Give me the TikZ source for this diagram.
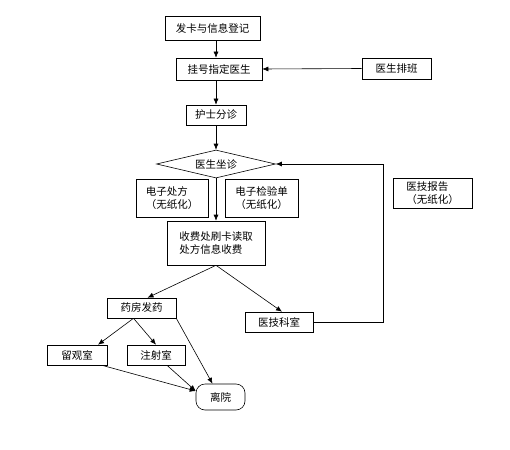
\documentclass[tikz,border=0pt]{standalone}
\usepackage{fontspec}
\setmainfont{Noto Sans CJK SC}
\usetikzlibrary{arrows.meta,shapes.geometric}
\begin{document}
\begin{tikzpicture}[x=1pt,y=-1pt,line width=.6pt,
  every node/.style={font=\fontsize{10.5}{13}\selectfont,inner sep=0pt},
  box/.style={draw,rectangle,align=left},
  arr/.style={-{Latex[length=6pt,width=5pt]}}]
  \useasboundingbox (0,0) rectangle (510,449);
  \node[box,minimum width=95,minimum height=24] (reg) at (212.5,28) {发卡与信息登记};
  \node[box,minimum width=86,minimum height=22] (gua) at (219,69) {挂号指定医生};
  \node[box,minimum width=69,minimum height=21] (pb) at (396.5,68.5) {医生排班};
  \node[box,minimum width=60,minimum height=20] (hs) at (216,115) {护士分诊};
  \node[draw,diamond,aspect=4,minimum width=119,minimum height=28] (zz) at (216,164) {医生坐诊};
  \node[box,minimum width=72,minimum height=38] (cf) at (172,198) {电子处方\\（无纸化）};
  \node[box,minimum width=73,minimum height=38] (jy) at (261.5,198) {电子检验单\\（无纸化）};
  \node[box,minimum width=98,minimum height=44] (sf) at (216,243) {收费处刷卡读取\\处方信息收费};
  \node[box,minimum width=79,minimum height=30] (bg) at (432.5,193) {医技报告\\（无纸化）};
  \node[box,minimum width=69,minimum height=20] (yf) at (141.5,308) {药房发药};
  \node[box,minimum width=68,minimum height=20] (jk) at (279,322) {医技科室};
  \node[box,minimum width=60,minimum height=20] (lg) at (77,355) {留观室};
  \node[box,minimum width=58,minimum height=20] (zs) at (156,355) {注射室};
  \node[draw,rounded corners=9pt,minimum width=49,minimum height=26] (ly) at (220.5,397) {离院};
  \coordinate (fb) at (383,164);
  % main line
  \draw[arr] (reg.south -| hs.north) -- (gua.north -| hs.north);
  \draw[arr] (gua.south -| hs.north) -- (hs.north);
  \draw[arr] (pb.west) -- (gua.east);
  \draw[arr] (hs.south) -- (zz.north);
  \draw[arr] (zz.south) -- (sf.north);
  \draw[arr] (sf.south) -- ([xshift=6pt]yf.north);
  \draw[arr] (sf.south) -- ([xshift=3pt]jk.north);
  \draw[arr] (jk.east) -| (fb) -- (zz.east);
  % leaving
  \draw[arr] ([xshift=-8pt]yf.south) -- ([xshift=21pt]lg.north);
  \draw[arr] ([xshift=-8pt]yf.south) -- (zs.north);
  \draw[arr] (yf.south east) -- ([xshift=-8pt]ly.north);
  \draw[arr] ([xshift=25pt]lg.south) -- ([yshift=6pt]ly.west);
  \draw[arr] ([xshift=11pt]zs.south) -- ([yshift=6pt]ly.west);
\end{tikzpicture}
\end{document}
